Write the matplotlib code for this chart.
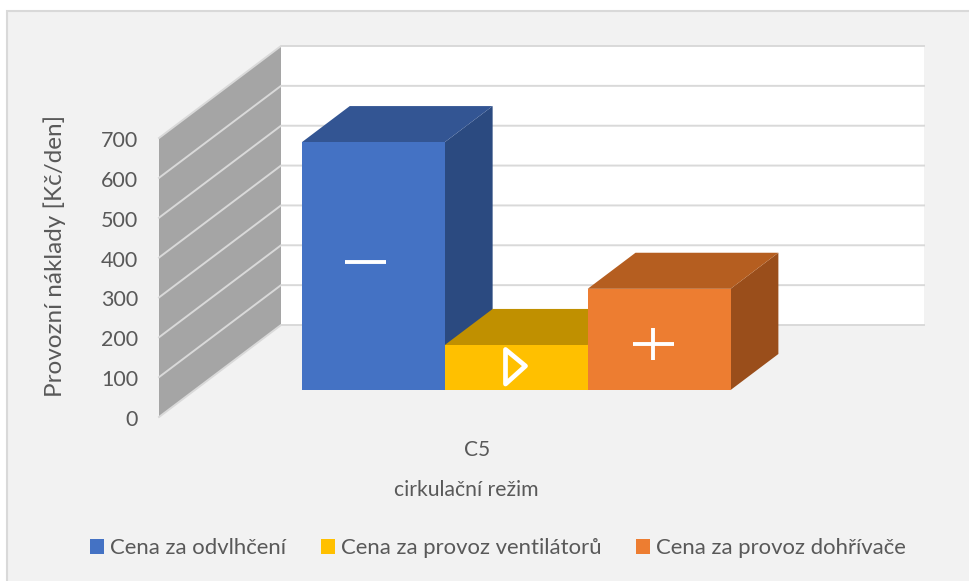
import matplotlib
matplotlib.use("Agg")
import matplotlib.pyplot as plt
from matplotlib.patches import Polygon, Rectangle, Patch

plt.rcParams['font.family'] = ['Lato', 'DejaVu Sans']

# data
categories = ['C5']
series_names = ['Cena za odvlhčení', 'Cena za provoz ventilátorů', 'Cena za provoz dohřívače']
series_values = [622, 113, 254]
y_ticks = [0, 100, 200, 300, 400, 500, 600, 700]
y_title = 'Provozní náklady [Kč/den]'
x_title = 'cirkulační režim'

# colours: front, top, side
front_colors = ['#4472C4', '#FFC000', '#ED7D31']
top_colors = ['#335593', '#C09000', '#B55E20']
side_colors = ['#2B4A80', '#A87E00', '#9A4E1B']
text_color = '#595959'
grid_color = '#D9D9D9'

# oblique projection of the 3d box, in pixels
x0, y0 = 159, 417        # front corner of the floor
plot_w = 643             # category axis length
dx, dy = 122, -92        # full depth offset
y_scale = 279 / 700      # pixels per Kč/den
y_max = 700
gap = 0.1667             # space left and right of the bars
bar_w = (1 - 2 * gap) / len(series_values)
depth_a, depth_b = 0.293, 0.685


def proj(x, val, depth):
    return (x0 + x * plot_w + depth * dx, y0 - val * y_scale + depth * dy)


fig = plt.figure(figsize=(9.69, 5.81), dpi=100, facecolor='white')
ax = fig.add_axes([0, 0, 1, 1])
ax.set_xlim(0, 969)
ax.set_ylim(581, 0)
ax.axis('off')

# chart area
ax.add_patch(Rectangle((7.5, 10.5), 970, 580, fc='#F2F2F2', ec=grid_color, lw=1.5, zorder=0))

# side wall and back wall
ax.add_patch(Polygon([proj(0, 0, 0), proj(0, y_max, 0), proj(0, y_max, 1), proj(0, 0, 1)],
                     fc='#A5A5A5', ec='none', zorder=1))
ax.add_patch(Polygon([proj(0, 0, 1), proj(0, y_max, 1), proj(1, y_max, 1), proj(1, 0, 1)],
                     fc='white', ec='none', zorder=1))

# gridlines and y tick labels
for t in y_ticks:
    p = [proj(0, t, 0), proj(0, t, 1), proj(1, t, 1)]
    ax.plot([q[0] for q in p], [q[1] for q in p], color=grid_color, lw=1.4,
            solid_joinstyle='miter', zorder=2)
    ax.text(x0 - 21, proj(0, t, 0)[1] + 3, str(t), ha='right', va='center',
            fontsize=15.5, color=text_color)

# bars, left to right so later ones cover earlier ones
for i, v in enumerate(series_values):
    xa = gap + i * bar_w
    xb = xa + bar_w
    ax.add_patch(Polygon([proj(xb, 0, depth_a), proj(xb, v, depth_a),
                          proj(xb, v, depth_b), proj(xb, 0, depth_b)],
                         fc=side_colors[i], ec='none', zorder=3))
    ax.add_patch(Polygon([proj(xa, v, depth_a), proj(xb, v, depth_a),
                          proj(xb, v, depth_b), proj(xa, v, depth_b)],
                         fc=top_colors[i], ec='none', zorder=3))
    ax.add_patch(Polygon([proj(xa, 0, depth_a), proj(xb, 0, depth_a),
                          proj(xb, v, depth_a), proj(xa, v, depth_a)],
                         fc=front_colors[i], ec='none', zorder=3))

# white symbols pasted on the bars
ax.plot([345, 386], [262, 262], color='white', lw=2.8, solid_capstyle='butt', zorder=4)
ax.plot([633, 674], [343.5, 343.5], color='white', lw=2.8, solid_capstyle='butt', zorder=4)
ax.plot([653.5, 653.5], [328, 360], color='white', lw=2.8, solid_capstyle='butt', zorder=4)
ax.add_patch(Polygon([(505.5, 349.5), (525.5, 366), (505.5, 384)], closed=True, fc='none',
                     ec='white', lw=3.4, joinstyle='round', zorder=4))

# axis texts
ax.text(proj(0.5, 0, 0)[0] - 3, 450, categories[0], ha='center', va='center',
        fontsize=15, color=text_color)
ax.text(466, 490, x_title, ha='center', va='center', fontsize=15.2, color=text_color)
ax.text(55, 256, y_title, rotation=90, ha='center', va='center', fontsize=17.5,
        color=text_color)

# legend
handles = [Patch(fc=c, ec='none', label=n) for c, n in zip(front_colors, series_names)]
ax.legend(handles=handles, ncol=3, loc='center', bbox_to_anchor=(498, 548),
          bbox_transform=ax.transData, frameon=False, fontsize=15.9,
          labelcolor=text_color, handlelength=0.636, handleheight=0.636,
          handletextpad=0.27, columnspacing=1.59, borderpad=0, borderaxespad=0)

fig.savefig('out.png', dpi=100, facecolor=fig.get_facecolor())
